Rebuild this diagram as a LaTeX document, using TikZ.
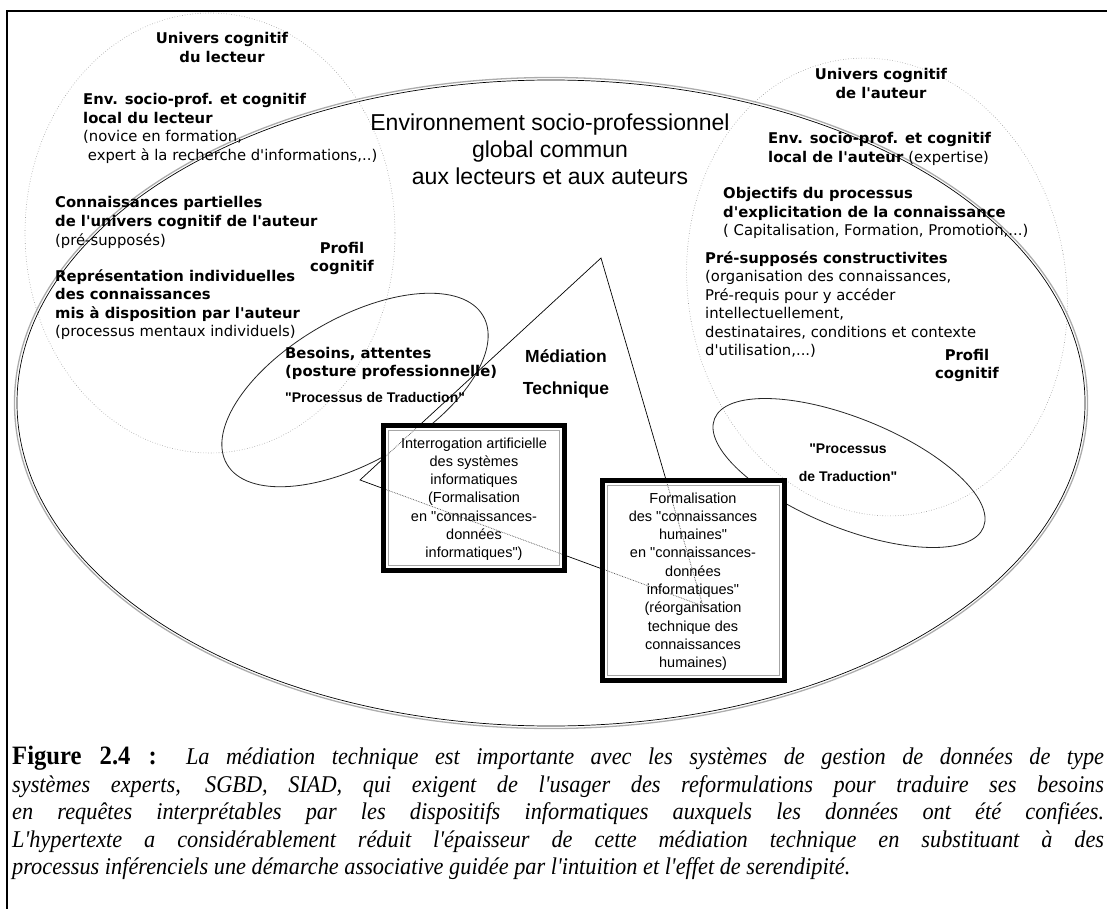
\documentclass[tikz,border=0pt]{standalone}
\usepackage{fontspec}
\setmainfont{Liberation Serif}
\newfontfamily\dvs{DejaVu Sans}
\newfontfamily\lsans{Liberation Sans}
\newcommand\ap{\textquotesingle}
\begin{document}
\begin{tikzpicture}[x=1pt,y=-1pt,
  bl/.style={font=\dvs\bfseries\fontsize{14.8}{18.5}\selectfont, inner sep=0, align=left, anchor=base west},
  blc/.style={bl, align=center, anchor=base},
  trad/.style={font=\lsans\bfseries\fontsize{14}{28}\selectfont, inner sep=0},
  boxtxt/.style={font=\lsans\fontsize{14.5}{18.3}\selectfont, inner sep=0, align=center, anchor=base},
  dotc/.style={gray!80, dotted, line width=0.6},
  thinell/.style={black!85, line width=0.8},
  boxout/.style={line width=5, black},
  boxin/.style={line width=1, gray!70}
]
\useasboundingbox (0,0) rectangle (1107,909);
\clip (0,0) rectangle (1107,909);
% frame
\draw[line width=2] (7,11) rectangle (1125,925);
% big ellipse (double line)
\draw[gray!65, line width=1.3] (551,403) ellipse [x radius=536.5, y radius=325.5];
\draw[black, line width=0.7] (551,403) ellipse [x radius=534, y radius=323];
% dotted cognitive universes
\draw[dotc] (210,233) ellipse [x radius=185, y radius=220];
\draw[dotc, rotate around={10:(877,287)}] (877,287) ellipse [x radius=189, y radius=230];
% translation ellipses
\draw[thinell, rotate around={30:(355,390)}] (355,390) ellipse [x radius=148, y radius=72];
\draw[thinell, rotate around={-22:(849,473)}] (849,473) ellipse [x radius=145, y radius=55];
% triangle (technical mediation)
\coordinate (tA) at (601,258);
\coordinate (tB) at (360,480);
\coordinate (tC) at (703,606);
\draw[black, line width=0.7] (tA) -- (tB) -- (tC) -- cycle;
% boxes
\fill[white] (381,423) rectangle (567,573);
\fill[white] (600,478) rectangle (787,683);
\begin{scope}
  \clip (386,428) rectangle (562,568) (605,483) rectangle (782,678);
  \draw[black!70, densely dotted, line width=0.7] (tA) -- (tB) -- (tC) -- cycle;
\end{scope}
\draw[boxout] (383.5,425.5) rectangle (564.5,570.5);
\draw[boxin] (388.5,430.5) rectangle (559.5,565.5);
\draw[boxout] (602.5,480.5) rectangle (784.5,680.5);
\draw[boxin] (607.5,485.5) rectangle (779.5,675.5);

% left universe texts (anchor = baseline of last line)
\node[blc] (ucl) at (222,62.5) {Univers cognitif\\du lecteur};
\node[bl] (envl) at (83,160.5) {Env. socio-prof. et cognitif\\local du lecteur\\{\mdseries (novice en formation,}\\{\mdseries \ expert à la recherche d\ap informations,..)}};
\node[bl] (conp) at (55,245) {Connaissances partielles\\de l\ap univers cognitif de l\ap auteur\\{\mdseries (pré-supposés)}};
\node[bl] (repr) at (55,336.5) {Représentation individuelles\\des connaissances\\mis à disposition par l\ap auteur\\{\mdseries (processus mentaux individuels)}};
\node[blc] (profl) at (342,271.5) {Profil\\cognitif};
\node[bl] (bes) at (285,376.5) {Besoins, attentes\\(posture professionnelle)};
\node[trad, anchor=base west] (tradl) at (285,402) {"Processus de Traduction"};

% heading
\node[font=\lsans\fontsize{23}{27}\selectfont, inner sep=0, align=center, anchor=base] (head) at (550,185) {Environnement socio-professionnel\\global commun\\aux lecteurs et aux auteurs};
\node[font=\lsans\bfseries\fontsize{17.5}{32}\selectfont, inner sep=0, align=center, anchor=base] (med) at (566,394) {Médiation\\Technique};

% right universe texts
\node[blc] (uca) at (881,98.5) {Univers cognitif\\de l\ap auteur};
\node[bl] (enva) at (768,162.5) {Env. socio-prof. et cognitif\\local de l\ap auteur {\mdseries (expertise)}};
\node[bl] (obj) at (723,236) {Objectifs du processus\\d\ap explicitation de la connaissance\\{\mdseries ( Capitalisation, Formation, Promotion,...)}};
\node[bl] (pres) at (705,355.5) {Pré-supposés constructivites\\{\mdseries (organisation des connaissances,}\\{\mdseries Pré-requis pour y accéder}\\{\mdseries intellectuellement,}\\{\mdseries destinataires, conditions et contexte}\\{\mdseries d\ap utilisation,...)}};
\node[blc] (profa) at (967,378.5) {Profil\\cognitif};
\node[trad, align=center, anchor=base] (trada) at (848,481) {"Processus\\de Traduction"};

% box texts
\node[boxtxt] (b1) at (474,557.8) {Interrogation artificielle\\des systèmes\\informatiques\\(Formalisation\\en "connaissances-\\données\\informatiques")};
\node[boxtxt] (b2) at (693,667.7) {Formalisation\\des "connaissances\\humaines"\\en "connaissances-\\données\\informatiques"\\(réorganisation\\technique des\\connaissances\\humaines)};

% caption
\node[anchor=north west, inner sep=0] (cap) at (12,746)
 {\scalebox{0.93}[1]{\parbox[t]{1174pt}{\fontsize{24}{27.5}\selectfont\hyphenpenalty=10000
 {\fontsize{26.5}{27.5}\selectfont\bfseries Figure 2.4 :} \textit{La médiation technique est importante avec les systèmes de gestion de données de type}\linebreak
 \textit{systèmes experts, SGBD, SIAD, qui exigent de l\ap usager des reformulations pour traduire ses besoins}\linebreak
 \textit{en requêtes interprétables par les dispositifs informatiques auxquels les données ont été confiées.}\linebreak
 \textit{L\ap hypertexte a considérablement réduit l\ap épaisseur de cette médiation technique en substituant à des}\linebreak
 \textit{processus inférenciels une démarche associative guidée par l\ap intuition et l\ap effet de serendipité.}}}};
\end{tikzpicture}
\end{document}
